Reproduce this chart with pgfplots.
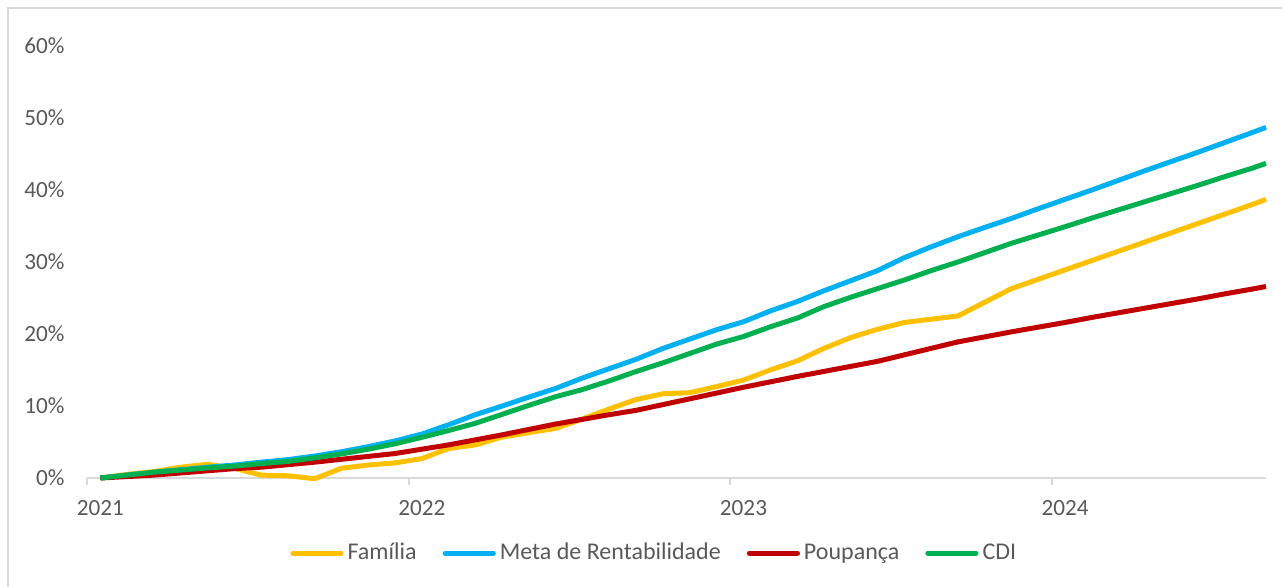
\documentclass[border=0pt]{standalone}
\usepackage{pgfplots}
\usepackage{pgfplotstable}
\pgfplotsset{compat=1.18}
\usepackage{fontspec}
\setmainfont{Carlito}
\definecolor{fam}{HTML}{FFC000}
\definecolor{meta}{HTML}{00B0F0}
\definecolor{poup}{HTML}{C00000}
\definecolor{cdi}{HTML}{00B050}
\definecolor{txt}{HTML}{595959}
\definecolor{grid}{HTML}{D9D9D9}
\pgfplotstableread{
x fam meta poup cdi
0.5 0 0 0 0
1.5 0.5 0.4 0.2 0.4
2.5 0.9 0.8 0.4 0.8
3.5 1.5 1.15 0.7 1.1
4.5 1.9 1.5 1.0 1.4
5.5 1.35 1.8 1.3 1.65
6.5 0.4 2.2 1.5 2.0
7.5 0.3 2.55 1.85 2.3
8.5 -0.1 3.05 2.2 2.8
9.5 1.35 3.65 2.6 3.35
10.5 1.8 4.35 3.0 4.0
11.5 2.1 5.15 3.4 4.75
12.5 2.7 6.1 4.0 5.65
13.5 4.1 7.4 4.6 6.6
14.5 4.6 8.8 5.3 7.6
15.5 5.7 10.0 6.0 8.85
16.5 6.3 11.25 6.75 10.1
17.5 6.9 12.45 7.5 11.3
18.5 8.2 13.9 8.15 12.3
19.5 9.6 15.2 8.8 13.5
20.5 10.9 16.5 9.4 14.8
21.5 11.7 18.0 10.2 16.0
22.5 11.85 19.3 11.0 17.3
23.5 12.7 20.6 11.8 18.6
24.5 13.6 21.7 12.6 19.65
25.5 15.0 23.2 13.35 21.0
26.5 16.25 24.5 14.1 22.2
27.5 18.0 26.0 14.8 23.8
28.5 19.5 27.4 15.5 25.1
29.5 20.65 28.8 16.2 26.3
30.5 21.6 30.6 17.1 27.5
31.5 22.05 32.1 18.0 28.8
32.5 22.5 33.5 18.9 30.0
33.5 24.4 34.8 19.6 31.3
34.5 26.3 36.05 20.3 32.6
35.5 27.6 37.4 20.95 33.75
36.5 28.9 38.7 21.6 34.9
37.5 30.2 40.0 22.3 36.1
38.5 31.5 41.35 22.95 37.25
39.5 32.8 42.7 23.6 38.4
40.5 34.1 44.0 24.25 39.55
41.5 35.4 45.3 24.9 40.7
42.5 36.7 46.65 25.6 41.9
43.5 38.0 48.0 26.25 43.05
44 38.7 48.7 26.6 43.7
}\datatable
\begin{document}
\begin{tikzpicture}
\useasboundingbox (-43.5pt,-54.5pt) rectangle (597.5pt,239pt);
\draw[color=grid, line width=0.75pt] (-39.5pt,-80pt) rectangle (620pt,235pt);
\begin{axis}[
  at={(0pt,0pt)}, anchor=south west,
  scale only axis, width=589.5pt, height=216pt,
  xmin=0, xmax=44, ymin=0, ymax=60,
  clip=false,
  axis x line*=bottom, axis y line*=left,
  x axis line style={draw=grid, line width=1pt, -},
  y axis line style={draw=none},
  xtick={0,12,24,36}, xticklabels={2021,2022,2023,2024},
  ytick={0,10,20,30,40,50,60},
  yticklabels={0\%,10\%,20\%,30\%,40\%,50\%,60\%},
  tick align=outside,
  major tick length=3.5pt,
  xtick style={draw=grid, line width=1pt},
  ytick style={draw=none},
  xticklabel style={font=\fontsize{11.6}{14}\selectfont, text=txt, xshift=6.7pt, yshift=-4pt},
  yticklabel style={font=\fontsize{11.6}{14}\selectfont, text=txt, xshift=-4.2pt},
  legend columns=4,
  legend style={draw=none, fill=none, at={(0.482,-0.174)}, anchor=center,
    font=\fontsize{12}{14}\selectfont, text=txt,
    /tikz/every even column/.append style={column sep=11pt}},
  legend image code/.code={\draw[line width=2.6pt, line cap=round] (0pt,0pt) -- (24pt,0pt);},
  every axis plot/.append style={line width=2.5pt, line join=round},
]
\addplot[fam] table[x=x, y=fam] {\datatable};
\addlegendentry{Família}
\addplot[meta] table[x=x, y=meta] {\datatable};
\addlegendentry{Meta de Rentabilidade}
\addplot[poup] table[x=x, y=poup] {\datatable};
\addlegendentry{Poupança}
\addplot[cdi] table[x=x, y=cdi] {\datatable};
\addlegendentry{CDI}
\end{axis}
\end{tikzpicture}
\end{document}
